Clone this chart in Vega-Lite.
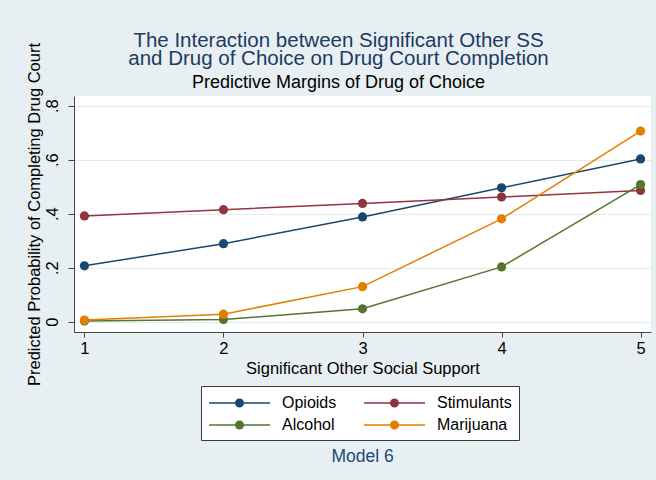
{
  "$schema": "https://vega.github.io/schema/vega-lite/v6.json",
  "autosize": "none",
  "width": 577,
  "height": 236,
  "padding": {"left": 74, "top": 96, "right": 5, "bottom": 148},
  "background": "#e8eff2",
  "config": {
    "font": "Liberation Sans",
    "view": {"fill": "white", "stroke": null}
  },
  "title": {
    "text": ["The Interaction between Significant Other SS", "and Drug of Choice on Drug Court Completion"],
    "subtitle": "Predictive Margins of Drug of Choice",
    "fontSize": 20.5,
    "fontWeight": "normal",
    "color": "#1c3a63",
    "lineHeight": 18,
    "subtitleFontSize": 18,
    "subtitleColor": "black",
    "subtitlePadding": 4,
    "anchor": "middle",
    "dx": -24,
    "offset": -49
  },
  "layer": [
    {
      "data": {
        "values": [
          {"drug": "Opioids", "support": 1, "prob": 0.207},
          {"drug": "Opioids", "support": 2, "prob": 0.289},
          {"drug": "Opioids", "support": 3, "prob": 0.388},
          {"drug": "Opioids", "support": 4, "prob": 0.496},
          {"drug": "Opioids", "support": 5, "prob": 0.603},
          {"drug": "Stimulants", "support": 1, "prob": 0.392},
          {"drug": "Stimulants", "support": 2, "prob": 0.415},
          {"drug": "Stimulants", "support": 3, "prob": 0.438},
          {"drug": "Stimulants", "support": 4, "prob": 0.462},
          {"drug": "Stimulants", "support": 5, "prob": 0.486},
          {"drug": "Alcohol", "support": 1, "prob": 0.003},
          {"drug": "Alcohol", "support": 2, "prob": 0.008},
          {"drug": "Alcohol", "support": 3, "prob": 0.048},
          {"drug": "Alcohol", "support": 4, "prob": 0.203},
          {"drug": "Alcohol", "support": 5, "prob": 0.508},
          {"drug": "Marijuana", "support": 1, "prob": 0.006},
          {"drug": "Marijuana", "support": 2, "prob": 0.028},
          {"drug": "Marijuana", "support": 3, "prob": 0.130},
          {"drug": "Marijuana", "support": 4, "prob": 0.381},
          {"drug": "Marijuana", "support": 5, "prob": 0.706}
        ]
      },
      "mark": {"type": "line", "strokeWidth": 1.5, "point": {"filled": true, "size": 85, "opacity": 1}},
      "encoding": {
        "x": {
          "field": "support",
          "type": "quantitative",
          "scale": {"domain": [0.925, 5.075], "nice": false, "zero": false},
          "axis": {
            "values": [1, 2, 3, 4, 5],
            "format": "d",
            "grid": false,
            "labelAngle": 0,
            "labelFontSize": 16.5,
            "labelColor": "black",
            "labelPadding": 3,
            "tickSize": 5,
            "tickColor": "#444",
            "domainColor": "#444",
            "title": "Significant Other Social Support",
            "titleFontSize": 16.5,
            "titleFontWeight": "normal",
            "titleColor": "black",
            "titlePadding": 4
          }
        },
        "y": {
          "field": "prob",
          "type": "quantitative",
          "scale": {"domain": [-0.038, 0.836], "nice": false, "zero": false},
          "axis": {
            "values": [0, 0.2, 0.4, 0.6, 0.8],
            "labelExpr": "datum.value == 0 ? '0' : replace(format(datum.value, '.1f'), '0.', '.')",
            "labelAngle": 270,
            "labelFontSize": 16.5,
            "labelColor": "black",
            "labelPadding": 8,
            "tickSize": 6,
            "tickColor": "#444",
            "domainColor": "#444",
            "gridColor": "#e4ebee",
            "title": "Predicted Probability of Completing Drug Court",
            "titleFontSize": 16.5,
            "titleFontWeight": "normal",
            "titleColor": "black",
            "titlePadding": 2
          }
        },
        "color": {
          "field": "drug",
          "type": "nominal",
          "scale": {
            "domain": ["Opioids", "Stimulants", "Alcohol", "Marijuana"],
            "range": ["#1a476f", "#90353b", "#55752f", "#e37e00"]
          },
          "legend": {
            "orient": "none",
            "legendX": 127,
            "legendY": 290,
            "direction": "horizontal",
            "columns": 2,
            "title": null,
            "symbolType": "M-1,0H5.78M2.81,0A0.42,0.42,0,1,1,1.97,0A0.42,0.42,0,1,1,2.81,0Z",
            "symbolSize": 324,
            "symbolStrokeWidth": 1.5,
            "labelFontSize": 16,
            "labelColor": "black",
            "labelOffset": 54,
            "columnPadding": 24,
            "rowPadding": 4,
            "padding": 7,
            "fillColor": "white",
            "strokeColor": "#3a3a3a",
            "encode": {
              "symbols": {"update": {"fill": {"scale": "color", "field": "value"}, "stroke": {"scale": "color", "field": "value"}, "opacity": {"value": 1}}}
            }
          }
        }
      }
    },
    {
      "data": {"values": [{"note": "Model 6"}]},
      "mark": {"type": "text", "fontSize": 17.5, "color": "#1c4a7a", "baseline": "middle", "align": "center"},
      "encoding": {
        "text": {"field": "note"},
        "x": {"datum": 3},
        "y": {"datum": -0.5}
      }
    }
  ]
}
